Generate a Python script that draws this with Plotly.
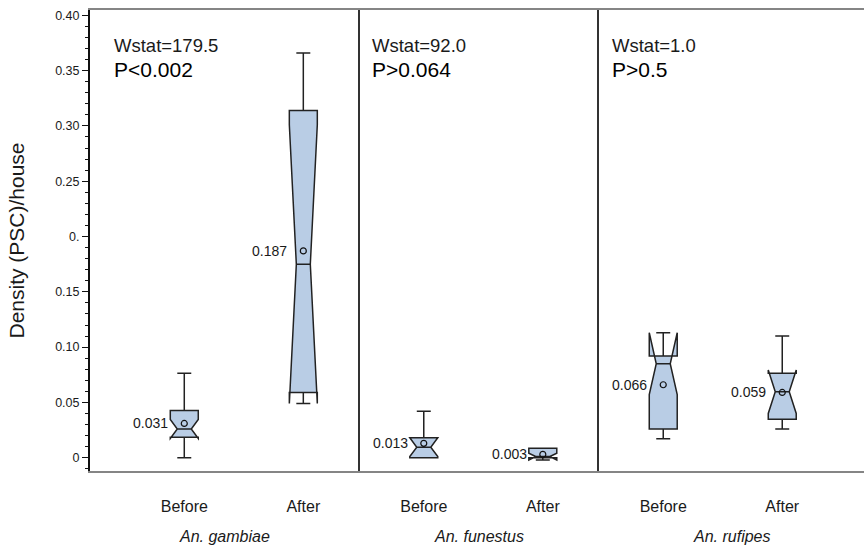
import plotly.graph_objects as go

# ---- data ----
species = ["An. gambiae", "An. funestus", "An. rufipes"]
periods = ["Before", "After"]

lower_fence = [[0.000, 0.052], [0.000, 0.000], [0.0172, 0.026]]
q1_vals     = [[0.0185, 0.059], [0.000, 0.000], [0.026, 0.0347]]
median_vals = [[0.026, 0.175], [0.0095, 0.001], [0.085, 0.0597]]
q3_vals     = [[0.0428, 0.314], [0.018, 0.0085], [0.092, 0.0763]]
upper_fence = [[0.0763, 0.366], [0.042, 0.0085], [0.1085, 0.110]]
notch_span  = [[0.0085, 0.126], [0.0085, 0.003], [0.028, 0.0197]]
mean_vals   = [[0.031, 0.187], [0.013, 0.003], [0.066, 0.059]]

wstat_text = ["Wstat=179.5", "Wstat=92.0", "Wstat=1.0"]
p_text = ["P<0.002", "P>0.064", "P>0.5"]

ytick_vals = [0, 0.05, 0.10, 0.15, 0.20, 0.25, 0.30, 0.35, 0.40]
ytick_text = ["0", "0.05", "0.10", "0.15", "0.", "0.25", "0.30", "0.35", "0.40"]

# ---- layout geometry ----
FONT = "Liberation Sans, Arial, Helvetica, sans-serif"
TXT = "#1a1a1a"
domains = [[0.0, 0.3482], [0.3482, 0.6576], [0.6576, 1.0]]
xranges = [[-0.792, 1.472], [-0.540, 1.472], [-0.540, 1.687]]
wstat_x = [0.08, 0.045, 0.043]
box_w = 0.235

fig = go.Figure()

for i in range(3):
    xa = "x" if i == 0 else f"x{i+1}"
    ya = "y" if i == 0 else f"y{i+1}"
    fig.add_trace(go.Box(
        x=periods,
        q1=q1_vals[i], median=median_vals[i], q3=q3_vals[i],
        lowerfence=lower_fence[i], upperfence=upper_fence[i],
        notchspan=notch_span[i], notched=True, notchwidth=0.25,
        width=box_w, whiskerwidth=0.5,
        fillcolor="#b9cde5",
        line=dict(color="#222", width=1.5),
        boxpoints=False, showlegend=False, hoverinfo="skip",
        xaxis=xa, yaxis=ya,
    ))
    fig.add_trace(go.Scatter(
        x=periods, y=mean_vals[i], mode="markers",
        marker=dict(symbol="circle-open", size=6, color="#111",
                    line=dict(width=1.2, color="#111")),
        showlegend=False, hoverinfo="skip", xaxis=xa, yaxis=ya,
    ))
    for j, p in enumerate(periods):
        fig.add_annotation(
            x=p, y=mean_vals[i][j], xref=xa, yref=ya,
            text=f"{mean_vals[i][j]:.3f}", showarrow=False,
            xanchor="right", yanchor="middle", xshift=-14,
            font=dict(family=FONT, size=14, color=TXT),
        )
    dref = ("x" if i == 0 else f"x{i+1}") + " domain"
    fig.add_annotation(
        x=wstat_x[i], y=0.923, xref=dref, yref="paper",
        text=wstat_text[i], showarrow=False, xanchor="left", yanchor="middle",
        font=dict(family=FONT, size=18.5, color=TXT),
    )
    fig.add_annotation(
        x=wstat_x[i], y=0.870, xref=dref, yref="paper",
        text=p_text[i], showarrow=False, xanchor="left", yanchor="middle",
        font=dict(family=FONT, size=21, color="#000"),
    )
    fig.add_annotation(
        x=0.5, y=-0.141, xref=dref, yref="paper",
        text=f"<i>{species[i]}</i>", showarrow=False,
        xanchor="center", yanchor="middle",
        font=dict(family=FONT, size=16, color=TXT),
    )

xaxis_common = dict(
    type="category", showline=True, mirror=True, linecolor="#858585",
    linewidth=2, ticks="", showgrid=False, zeroline=False,
    ticklabelstandoff=20, tickfont=dict(family=FONT, size=16, color=TXT),
    fixedrange=True,
)
yrange = [-0.012, 0.4048]

layout = dict(
    width=864, height=549,
    margin=dict(l=90, r=0, t=10, b=78),
    paper_bgcolor="white", plot_bgcolor="white",
)
for i in range(3):
    xk = "xaxis" if i == 0 else f"xaxis{i+1}"
    yk = "yaxis" if i == 0 else f"yaxis{i+1}"
    layout[xk] = dict(xaxis_common, domain=domains[i], range=xranges[i],
                      anchor="y" if i == 0 else f"y{i+1}")
    if i == 0:
        layout[yk] = dict(
            range=yrange, showline=True, linecolor="#111", linewidth=2,
            tickmode="array", tickvals=ytick_vals, ticktext=ytick_text,
            ticks="outside", ticklen=6, tickwidth=1, tickcolor="#111",
            minor=dict(tickmode="linear", tick0=0, dtick=0.01,
                       ticks="outside", ticklen=3, tickcolor="#111", tickwidth=1),
            tickfont=dict(family=FONT, size=12.5, color=TXT),
            showgrid=False, zeroline=False, anchor="x",
            title=dict(text="Density (PSC)/house", standoff=25,
                       font=dict(family=FONT, size=21, color=TXT)),
        )
    else:
        layout[yk] = dict(
            range=yrange, showline=True, linecolor="#333", linewidth=1.5,
            ticks="", showticklabels=False, showgrid=False, zeroline=False,
            anchor=f"x{i+1}",
        )

fig.update_layout(**layout)
fig.write_html(
    "out.html",
    config={"displayModeBar": False},
    post_script="document.body.style.margin='0';document.body.style.overflow='hidden';",
)
